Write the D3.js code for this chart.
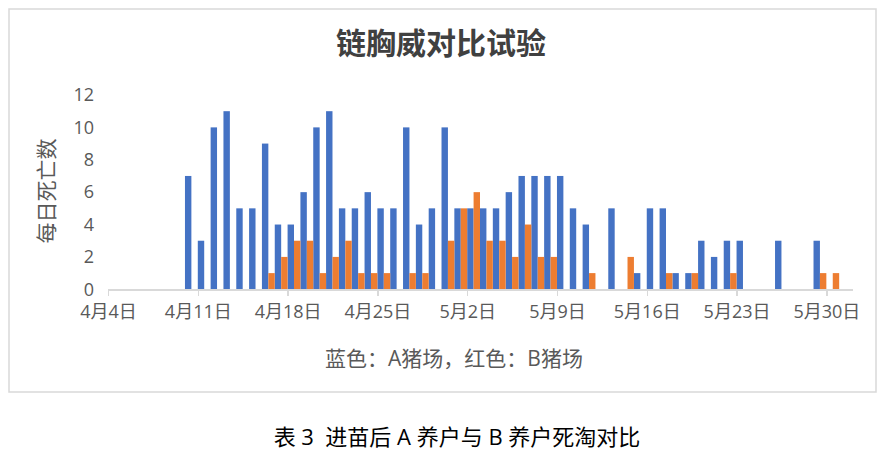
<!DOCTYPE html>
<html lang="zh">
<head>
<meta charset="UTF-8"/>
<title>链胸威对比试验</title>
<script src="https://d3js.org/d3.v7.min.js"></script>
<style>
    body { margin: 0; background: #fff; }
    text { font-family: "Open Sans", "Noto Sans CJK SC", sans-serif; }
    .axis path, .axis line { stroke: #d9d9d9; stroke-width: 1.5px; shape-rendering: crispEdges; }
    .axis text { fill: #595959; font-size: 18px; }
</style>
</head>
<body>
<script>
// daily deaths, 4/10 .. 5/30
var days = ["4-10","4-11","4-12","4-13","4-14","4-15","4-16","4-17","4-18","4-19",
    "4-20","4-21","4-22","4-23","4-24","4-25","4-26","4-27","4-28","4-29",
    "4-30","5-01","5-02","5-03","5-04","5-05","5-06","5-07","5-08","5-09",
    "5-10","5-11","5-12","5-13","5-14","5-15","5-16","5-17","5-18","5-19",
    "5-20","5-21","5-22","5-23","5-24","5-25","5-26","5-27","5-28","5-29","5-30"];
var farmA = [7,3,10,11,5,5,9,4,4,6,
    10,11,5,5,6,5,5,10,4,5,
    10,5,5,5,5,6,7,7,7,7,
    5,4,0,5,0,1,5,5,1,1,
    3,2,3,3,0,0,3,0,0,3,0];
var farmB = [0,0,0,0,0,0,1,2,3,3,
    1,2,3,1,1,1,0,1,1,0,
    3,5,6,3,3,2,4,2,2,0,
    0,1,0,0,2,0,0,1,0,1,
    0,0,1,0,0,0,0,0,0,1,1];
var tickDays = ["4-04","4-11","4-18","4-25","5-02","5-09","5-16","5-23","5-30"];
var tickLabels = ["4月4日","4月11日","4月18日","4月25日","5月2日","5月9日","5月16日","5月23日","5月30日"];
var yTicks = [0, 2, 4, 6, 8, 10, 12];

var parse = d3.timeParse("%Y-%m-%d");
function toDate(s) { return parse("2020-" + s); }

var width = 885, height = 460;

var svg = d3.select("body").append("svg")
    .attr("width", width)
    .attr("height", height);

// chart frame
svg.append("rect")
    .attr("x", 9).attr("y", 9)
    .attr("width", 867).attr("height", 383)
    .attr("fill", "#fff")
    .attr("stroke", "#d9d9d9")
    .attr("stroke-width", 1.5);

var x = d3.scaleTime()
    .domain([toDate("4-04"), toDate("6-01")])
    .range([108, 852]);

var y = d3.scaleLinear()
    .domain([0, 12])
    .range([289.3, 95]);

// bars
var data = days.map(function (d, i) {
    return {date: toDate(d), a: farmA[i], b: farmB[i]};
});
function bandW(d) { return (x(d3.timeDay.offset(d.date, 1)) - x(d.date)) / 2; }

svg.selectAll("rect.a")
    .data(data)
    .enter()
    .append("rect")
    .attr("class", "a")
    .attr("x", function (d) { return x(d.date); })
    .attr("y", function (d) { return y(d.a); })
    .attr("width", bandW)
    .attr("height", function (d) { return y(0) - y(d.a); })
    .attr("fill", "#4472c4");

svg.selectAll("rect.b")
    .data(data)
    .enter()
    .append("rect")
    .attr("class", "b")
    .attr("x", function (d) { return x(d.date) + bandW(d); })
    .attr("y", function (d) { return y(d.b); })
    .attr("width", bandW)
    .attr("height", function (d) { return y(0) - y(d.b); })
    .attr("fill", "#ed7d31");

// x axis
svg.append("g")
    .attr("class", "axis")
    .attr("transform", "translate(0," + y(0) + ")")
    .call(d3.axisBottom(x)
        .tickValues(tickDays.map(toDate))
        .tickSize(7)
        .tickSizeOuter(0)
        .tickPadding(9)
        .tickFormat(function (d, i) { return tickLabels[i]; }));

// y axis (labels only)
var yAxis = svg.append("g")
    .attr("class", "axis")
    .attr("transform", "translate(94,0)")
    .call(d3.axisLeft(y).tickValues(yTicks).tickSize(0).tickPadding(0));
yAxis.select(".domain").remove();

// titles
svg.append("text")
    .attr("x", 441).attr("y", 54)
    .attr("text-anchor", "middle")
    .style("font-size", "30px")
    .style("font-weight", "bold")
    .attr("fill", "#404040")
    .text("链胸威对比试验");

svg.append("text")
    .attr("transform", "translate(54,191) rotate(-90)")
    .attr("text-anchor", "middle")
    .style("font-size", "21px")
    .attr("fill", "#595959")
    .text("每日死亡数");

svg.append("text")
    .attr("x", 454).attr("y", 366)
    .attr("text-anchor", "middle")
    .style("font-size", "21px")
    .attr("fill", "#595959")
    .text("蓝色：A猪场，红色：B猪场");

svg.append("text")
    .attr("x", 457).attr("y", 445)
    .attr("text-anchor", "middle")
    .style("font-size", "22px")
    .attr("fill", "#000")
    .text("表\u00a03\u00a0\u00a0进苗后\u00a0A\u00a0养户与\u00a0B\u00a0养户死淘对比");
</script>
</body>
</html>
